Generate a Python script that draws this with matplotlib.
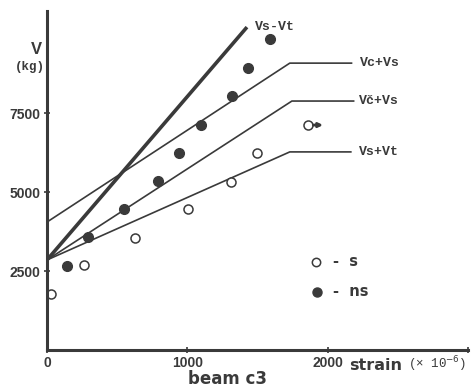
import matplotlib
matplotlib.use("Agg")
from matplotlib import pyplot as plt

# ---- data ----
strain_s = [28, 262, 624, 1007, 1312, 1496, 1858]
load_s = [1770, 2690, 3540, 4460, 5320, 6230, 7120]

strain_ns = [142, 291, 546, 794, 943, 1099, 1319, 1433, 1589]
load_ns = [2660, 3580, 4460, 5350, 6230, 7120, 8040, 8920, 9840]

# predicted curves (strain, load)
vs_vt_x = [0, 1425]
vs_vt_y = [2850, 10220]
vc_vs_x = [0, 1730, 2170]
vc_vs_y = [4050, 9080, 9080]
vc2_vs_x = [0, 1745, 2185]
vc2_vs_y = [2850, 7880, 7880]
vs_pvt_x = [0, 1730, 2165]
vs_pvt_y = [2850, 6270, 6270]

x_ticks = [0, 1000, 2000, 3000]
x_labels = ["0", "1000", "2000", ""]
y_ticks = [2500, 5000, 7500]

ink = "#3a3a3a"
mono = ["Liberation Mono", "DejaVu Sans Mono"]
sans = ["DejaVu Sans"]

fig = plt.figure(figsize=(4.75, 3.9), dpi=100)
ax = fig.add_axes([47 / 475, 40 / 390, 421 / 475, 339 / 390])

ax.plot(vs_vt_x, vs_vt_y, color=ink, lw=2.6, solid_capstyle="butt")
ax.plot(vc_vs_x, vc_vs_y, color=ink, lw=1.2)
ax.plot(vc2_vs_x, vc2_vs_y, color=ink, lw=1.2)
ax.plot(vs_pvt_x, vs_pvt_y, color=ink, lw=1.2)

ax.plot(strain_s, load_s, "o", ms=6.5, mfc="white", mec=ink, mew=1.1)
ax.plot(strain_ns, load_ns, "o", ms=7, mfc=ink, mec=ink)

# small arrow on the last open point
ax.annotate("", xy=(strain_s[-1], load_s[-1]), xytext=(11, 0),
            textcoords="offset points",
            arrowprops=dict(arrowstyle="<|-", color=ink, lw=2,
                            shrinkA=0, shrinkB=4, mutation_scale=6))

# curve labels
lab = dict(textcoords="offset points", ha="left", va="center",
           fontsize=9.5, family=mono, color=ink, fontweight="bold")
ax.annotate("Vs-Vt", xy=(vs_vt_x[-1], vs_vt_y[-1]), xytext=(6, 0), **lab)
ax.annotate("Vc+Vs", xy=(vc_vs_x[-1], vc_vs_y[-1]), xytext=(6, 0), **lab)
ax.annotate("Vč+Vs", xy=(vc2_vs_x[-1], vc2_vs_y[-1]), xytext=(4, 0), **lab)
ax.annotate("Vs+Vt", xy=(vs_pvt_x[-1], vs_pvt_y[-1]), xytext=(6, 0), **lab)

# legend drawn by hand
ax.plot([1915], [2800], "o", ms=6, mfc="white", mec=ink, mew=1.1)
ax.plot([1925], [1850], "o", ms=6.5, mfc=ink, mec=ink)
ax.text(2040, 2800, "-  s", ha="left", va="center", fontsize=10.5,
        family=sans, fontweight="bold", color=ink)
ax.text(2040, 1850, "-  ns", ha="left", va="center", fontsize=10.5,
        family=sans, fontweight="bold", color=ink)

ax.set_xlim(0, 3000)
ax.set_ylim(0, 10730)
for side in ["top", "right"]:
    ax.spines[side].set_visible(False)
for side in ["left", "bottom"]:
    ax.spines[side].set_linewidth(2.2)
    ax.spines[side].set_color(ink)

ax.set_xticks(x_ticks)
ax.set_xticklabels(x_labels)
ax.set_yticks(y_ticks)
ax.tick_params(direction="inout", length=5, width=1.2, color=ink,
               labelcolor=ink, labelsize=10, pad=2)
for t in ax.get_xticklabels() + ax.get_yticklabels():
    t.set_fontweight("bold")
    t.set_family(["Liberation Sans", "DejaVu Sans"])

fig.text(36 / 475, 1 - 49 / 390, "V", ha="center", va="center",
         fontsize=12, fontweight="bold", color=ink, family=["Liberation Sans"])
fig.text(30 / 475, 1 - 67 / 390, "(kg)", ha="center", va="center",
         fontsize=9, family=mono, color=ink, fontweight="bold")
fig.text(376 / 475, 1 - 365 / 390, "strain", ha="center", va="center",
         fontsize=11.5, family=sans, fontweight="bold", color=ink)
fig.text(437 / 475, 1 - 364 / 390, "(× 10$^{-6}$)", ha="center", va="center",
         fontsize=9, family=mono, color=ink)
fig.text(227 / 475, 1 - 379 / 390, "beam c3", ha="center", va="center",
         fontsize=12, family=sans, fontweight="bold", color=ink)

fig.savefig("out.png", dpi=100, facecolor="white")
